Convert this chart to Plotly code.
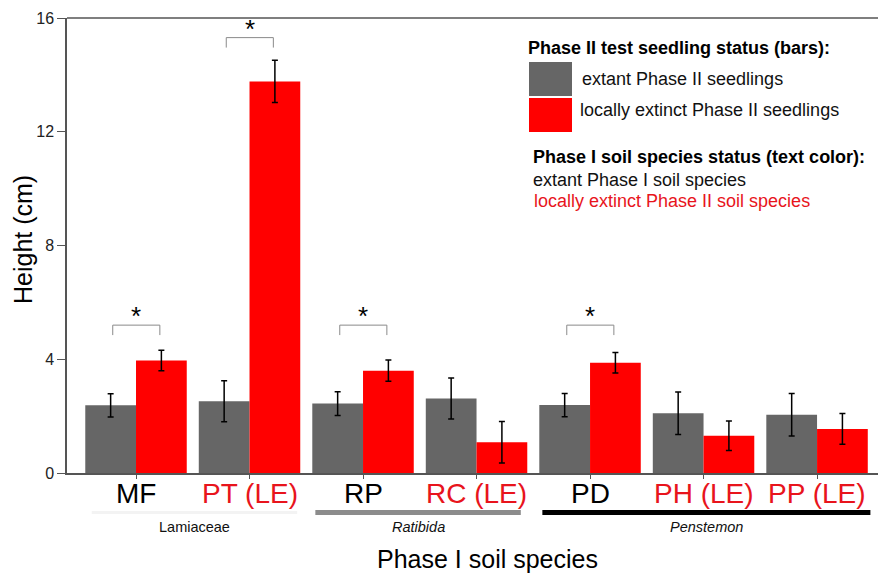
import plotly.graph_objects as go

species = ["MF", "PT (LE)", "RP", "RC (LE)", "PD", "PH (LE)", "PP (LE)"]
species_extinct = [False, True, False, True, False, True, True]
extant_mean = [2.38, 2.52, 2.44, 2.62, 2.39, 2.10, 2.05]
extant_err = [0.41, 0.72, 0.42, 0.72, 0.41, 0.75, 0.75]
extinct_mean = [3.96, 13.77, 3.60, 1.08, 3.88, 1.31, 1.55]
extinct_err = [0.36, 0.74, 0.37, 0.73, 0.36, 0.52, 0.54]
significant = ["MF", "PT (LE)", "RP", "PD"]
groups = ["Lamiaceae", "Ratibida", "Penstemon"]
group_members = [["MF", "PT (LE)"], ["RP", "RC (LE)"], ["PD", "PH (LE)", "PP (LE)"]]
group_italic = [False, True, True]
group_line_color = ["#f3f3f3", "#8c8c8c", "#000000"]

GRAY = "#666666"
RED = "#ff0000"
TXT_RED = "#e8141c"
FONT = "Liberation Sans, Arial, sans-serif"

xs = list(range(len(species)))

fig = go.Figure()
fig.add_trace(go.Bar(
    x=xs, y=extant_mean, name="extant Phase II seedlings",
    marker=dict(color=GRAY, line=dict(width=0)),
    error_y=dict(type="data", array=extant_err, color="black", thickness=1.5, width=3),
))
fig.add_trace(go.Bar(
    x=xs, y=extinct_mean, name="locally extinct Phase II seedlings",
    marker=dict(color=RED, line=dict(width=0)),
    error_y=dict(type="data", array=extinct_err, color="black", thickness=1.5, width=3),
))

W, H = 811.0, 455.0
def px(xp):
    return (xp - 67) / W
def py(yp):
    return (473 - yp) / H

shapes = []
annotations = []

# category labels (coloured by Phase I soil species status)
for i, (s, ext) in enumerate(zip(species, species_extinct)):
    annotations.append(dict(x=i, y=py(493), xref="x", yref="paper", text=s, showarrow=False,
                            xanchor="center", yanchor="middle",
                            font=dict(size=28, color=TXT_RED if ext else "#000000", family=FONT)))

# significance brackets
for s in significant:
    i = species.index(s)
    top = max(extant_mean[i] + extant_err[i], extinct_mean[i] + extinct_err[i])
    yb = max(5.2, top + 0.8)
    x0, x1 = i - 0.205, i + 0.21
    lc = dict(color="#8a8a8a", width=1)
    shapes.append(dict(type="line", xref="x", yref="y", x0=x0, x1=x1, y0=yb, y1=yb, line=lc))
    shapes.append(dict(type="line", xref="x", yref="y", x0=x0, x1=x0, y0=yb, y1=yb - 0.35, line=lc))
    shapes.append(dict(type="line", xref="x", yref="y", x0=x1, x1=x1, y0=yb, y1=yb - 0.35, line=lc))
    annotations.append(dict(x=i, y=yb, xref="x", yref="y", text="*", showarrow=False,
                            yanchor="middle", yshift=9,
                            font=dict(size=26, color="black", family=FONT)))

# group underlines and labels
for g, members, ital, col in zip(groups, group_members, group_italic, group_line_color):
    idx = [species.index(m) for m in members]
    if g == "Lamiaceae":
        x0, x1, lw = min(idx) - 0.39, max(idx) + 0.42, 3
    elif g == "Ratibida":
        x0, x1, lw = min(idx) - 0.42, max(idx) + 0.39, 5
    else:
        x0, x1, lw = min(idx) - 0.42, max(idx) + 0.47, 5
    shapes.append(dict(type="line", xref="x", yref="paper", x0=x0, x1=x1,
                       y0=py(512.5), y1=py(512.5), line=dict(color=col, width=lw)))
    label = f"<i>{g}</i>" if ital else g
    annotations.append(dict(x=(x0 + x1) / 2, y=py(527), xref="x", yref="paper", text=label,
                            showarrow=False, yanchor="middle",
                            font=dict(size=14.5, color="#111111", family=FONT)))

# axis titles
annotations.append(dict(x=px(487), y=py(559), xref="paper", yref="paper",
                        text="Phase I soil species", showarrow=False,
                        xanchor="center", yanchor="middle",
                        font=dict(size=25, color="black", family=FONT)))
annotations.append(dict(x=px(23), y=py(240), xref="paper", yref="paper",
                        text="Height (cm)", showarrow=False, textangle=-90,
                        xanchor="center", yanchor="middle",
                        font=dict(size=25, color="black", family=FONT)))

# top border line
shapes.append(dict(type="line", xref="paper", yref="paper", x0=0, x1=1, y0=1, y1=1,
                   line=dict(color="#555555", width=1.5)))

# custom legend
shapes.append(dict(type="rect", xref="paper", yref="paper", x0=px(529), x1=px(572),
                   y0=py(96), y1=py(62), fillcolor=GRAY, line=dict(width=0)))
shapes.append(dict(type="rect", xref="paper", yref="paper", x0=px(529), x1=px(572),
                   y0=py(132), y1=py(98), fillcolor=RED, line=dict(width=0)))

FS = 18
legend_items = [
    (526, 48, "<b>Phase II test seedling status (bars):</b>", "#000000"),
    (580, 79, "extant Phase II seedlings", "#111111"),
    (578, 110, "locally extinct Phase II seedlings", "#111111"),
    (531, 157, "<b>Phase I soil species status (text color):</b>", "#000000"),
    (531, 180, "extant Phase I soil species", "#111111"),
    (532, 201, "locally extinct Phase II soil species", TXT_RED),
]
for xp, yp, t, c in legend_items:
    annotations.append(dict(x=px(xp), y=py(yp), xref="paper", yref="paper", text=t,
                            showarrow=False, xanchor="left", yanchor="middle",
                            font=dict(size=FS, color=c, family=FONT)))

fig.update_layout(
    width=878, height=573,
    margin=dict(l=67, r=0, t=18, b=100, pad=0),
    paper_bgcolor="white", plot_bgcolor="white",
    barmode="group", bargap=0.106, bargroupgap=0,
    showlegend=False,
    font=dict(family=FONT),
    shapes=shapes, annotations=annotations,
    xaxis=dict(
        range=[-0.608, 6.537], tickmode="array", tickvals=xs, ticktext=[""] * len(xs),
        showline=True, linecolor="#555555", linewidth=1.5,
        ticks="outside", ticklen=4, tickcolor="#555555",
        showgrid=False, zeroline=False,
    ),
    yaxis=dict(
        range=[0, 16], tickvals=[0, 4, 8, 12, 16],
        tickfont=dict(size=16, color="#222222", family=FONT),
        showline=True, linecolor="#555555", linewidth=1.5,
        ticks="outside", ticklen=8, tickcolor="#555555",
        showgrid=False, zeroline=False,
    ),
)

fig.write_html("out.html")
